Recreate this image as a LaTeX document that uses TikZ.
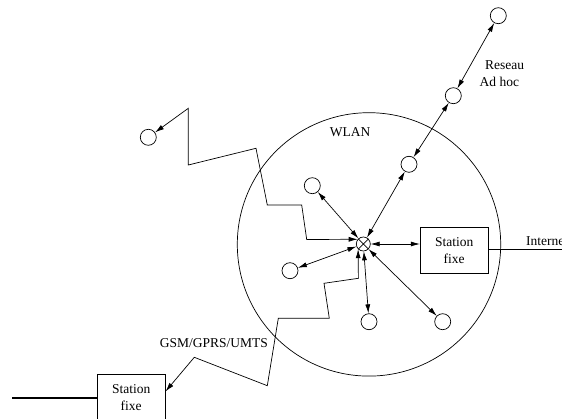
\documentclass[tikz,border=0pt]{standalone}
\usepackage{fontspec}
\setmainfont{Liberation Serif}
\usetikzlibrary{arrows.meta}
\begin{document}
\begin{tikzpicture}[x=1pt,y=-1pt,
  every node/.style={font=\fontsize{13.5}{17}\selectfont},
  link/.style={line width=0.7pt},
  tip/.tip={Latex[length=9pt,width=5pt]},
  dbl/.style={link,{tip}-{tip}},
  station/.style={circle,draw,line width=0.7pt,minimum size=16pt,inner sep=0pt},
  fixed/.style={draw,line width=0.7pt,minimum width=68pt,minimum height=46pt,align=center,inner sep=0pt},
  wire/.style={line width=1.8pt}]
\useasboundingbox (0,0) rectangle (562,419);

% WLAN cell
\node[circle,draw,line width=0.7pt,minimum size=263.4pt,inner sep=0pt] (wlan) at (369,244.4) {};
\node (wlanlbl) at (350,132.5) {WLAN};

% access point
\node[circle,draw,line width=0.7pt,minimum size=14pt,inner sep=0pt] (hub) at (363.3,244) {};
\draw[link] (hub.45) -- (hub.225) (hub.135) -- (hub.-45);

% fixed stations
\node[fixed] (sbox) at (454.2,250.2) {Station\\fixe};
\node[fixed] (lowbox) at (131.2,397.4) {Station\\fixe};

% mobile terminals
\node[station] (ul) at (312.3,185.7) {};
\node[station] (ur) at (409,164.3) {};
\node[station] (lt) at (290,270.7) {};
\node[station] (bt) at (369,321.7) {};
\node[station] (br) at (442.7,321.7) {};
\node[station] (adm) at (453.3,95.7) {};
\node[station] (top) at (498.3,15.7) {};
\node[station] (far) at (148.3,137.3) {};

% links inside the cell
\draw[dbl] (hub) -- (ul);
\draw[dbl] (hub) -- (ur);
\draw[dbl] (hub) -- (lt);
\draw[dbl] (hub) -- (bt);
\draw[dbl] (hub) -- (br);
\draw[dbl] (hub) -- (hub -| sbox.west);

% ad hoc network
\draw[dbl] (ur) -- (adm);
\draw[dbl] (adm) -- (top);
\node[anchor=west] (reseau) at (481.5,65) {Reseau};
\node[anchor=west] (adhoc) at (476.2,81.7) {Ad hoc};

% cellular links
\draw[dbl] (far) -- (188.3,108.3) -- (188.3,165) -- (256,148.3) -- (267.3,205)
  -- (301.7,205) -- (306.7,239.5) -- (hub.140);
\draw[dbl] ([yshift=6pt]lowbox.east) -- (194.3,357.3) -- (267.3,385.7)
  -- (278.3,318.3) -- (329.3,318.3) -- (324,283.3) -- (358.4,278.3) -- (hub.-135);
\node (gsm) at (213.8,343.3) {GSM/GPRS/UMTS};

% wired connections
\coordinate (inet) at (566,249.5);
\coordinate (wired) at (12.3,397.7);
\draw[wire] (sbox.east |- inet) -- (inet);
\node[anchor=west] (inetlbl) at (522.5,241) {Internet};
\draw[wire] (lowbox.west |- wired) -- (wired);
\end{tikzpicture}
\end{document}
